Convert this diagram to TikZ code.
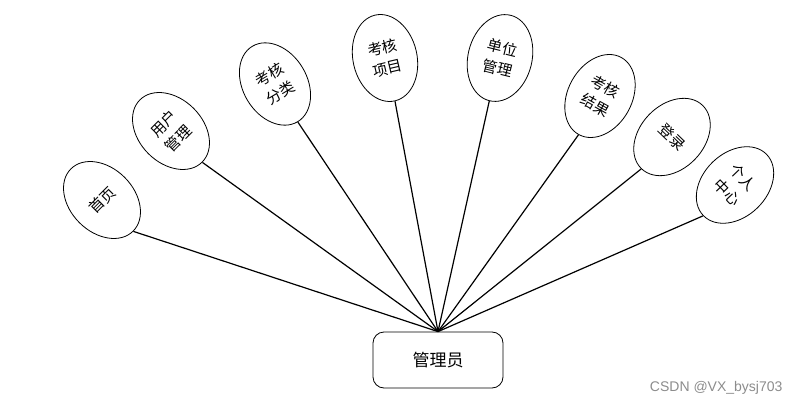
\documentclass[tikz,border=0pt]{standalone}
\usepackage{fontspec}
\newfontfamily\cjk{Noto Sans CJK SC}
\newfontfamily\wmfont{Liberation Sans}
\usetikzlibrary{calc}
\usetikzlibrary{shapes.geometric}
\tikzstyle{funcnode} = [draw, ellipse, line width=0.8pt, minimum width=64, minimum height=88, inner sep=0pt, align=center, font=\cjk\fontsize{15}{21}\selectfont]
\tikzstyle{rolenode} = [draw, rounded corners=11, line width=0.8pt, minimum width=130, minimum height=56, font=\cjk\fontsize{17}{19}\selectfont]
\tikzstyle{link} = [line width=1.2pt]

\begin{document}
\begin{tikzpicture}[x=1pt, y=-1pt]
\useasboundingbox (0,0) rectangle (800,406);
\node[rolenode] (admin) at (438,360) {管理员};

\node[funcnode, rotate=45] (home) at ($(admin)+(-336,-160)$) {首页};
\node[funcnode, rotate=45] (user) at ($(admin)+(-267,-229)$) {用户\\管理};
\node[funcnode, rotate=31] (category) at ($(admin)+(-163,-276)$) {考核\\分类};
\node[funcnode, rotate=13] (item) at ($(admin)+(-53,-302)$) {考核\\项目};
\node[funcnode, rotate=-14] (unit) at ($(admin)+(62,-302)$) {单位\\管理};
\node[funcnode, rotate=-29] (result) at ($(admin)+(162,-264)$) {考核\\结果};
\node[funcnode, rotate=-44] (login) at ($(admin)+(234,-223)$) {登录};
\node[funcnode, rotate=-46] (center) at ($(admin)+(297,-175)$) {个人\\中心};

\draw[link] (home.south) -- (admin.north);
\draw[link] (user.south) -- (admin.north);
\draw[link] (category.south) -- (admin.north);
\draw[link] (item.south) -- (admin.north);
\draw[link] (unit.south) -- (admin.north);
\draw[link] (result.south) -- (admin.north);
\draw[link] (login.south) -- (admin.north);
\draw[link] (center.south) -- (admin.north);

\node[anchor=east, text=black!45, font=\wmfont\fontsize{14}{16}\selectfont] (mark) at (786,388) {CSDN @VX\_bysj703};
\end{tikzpicture}
\end{document}
